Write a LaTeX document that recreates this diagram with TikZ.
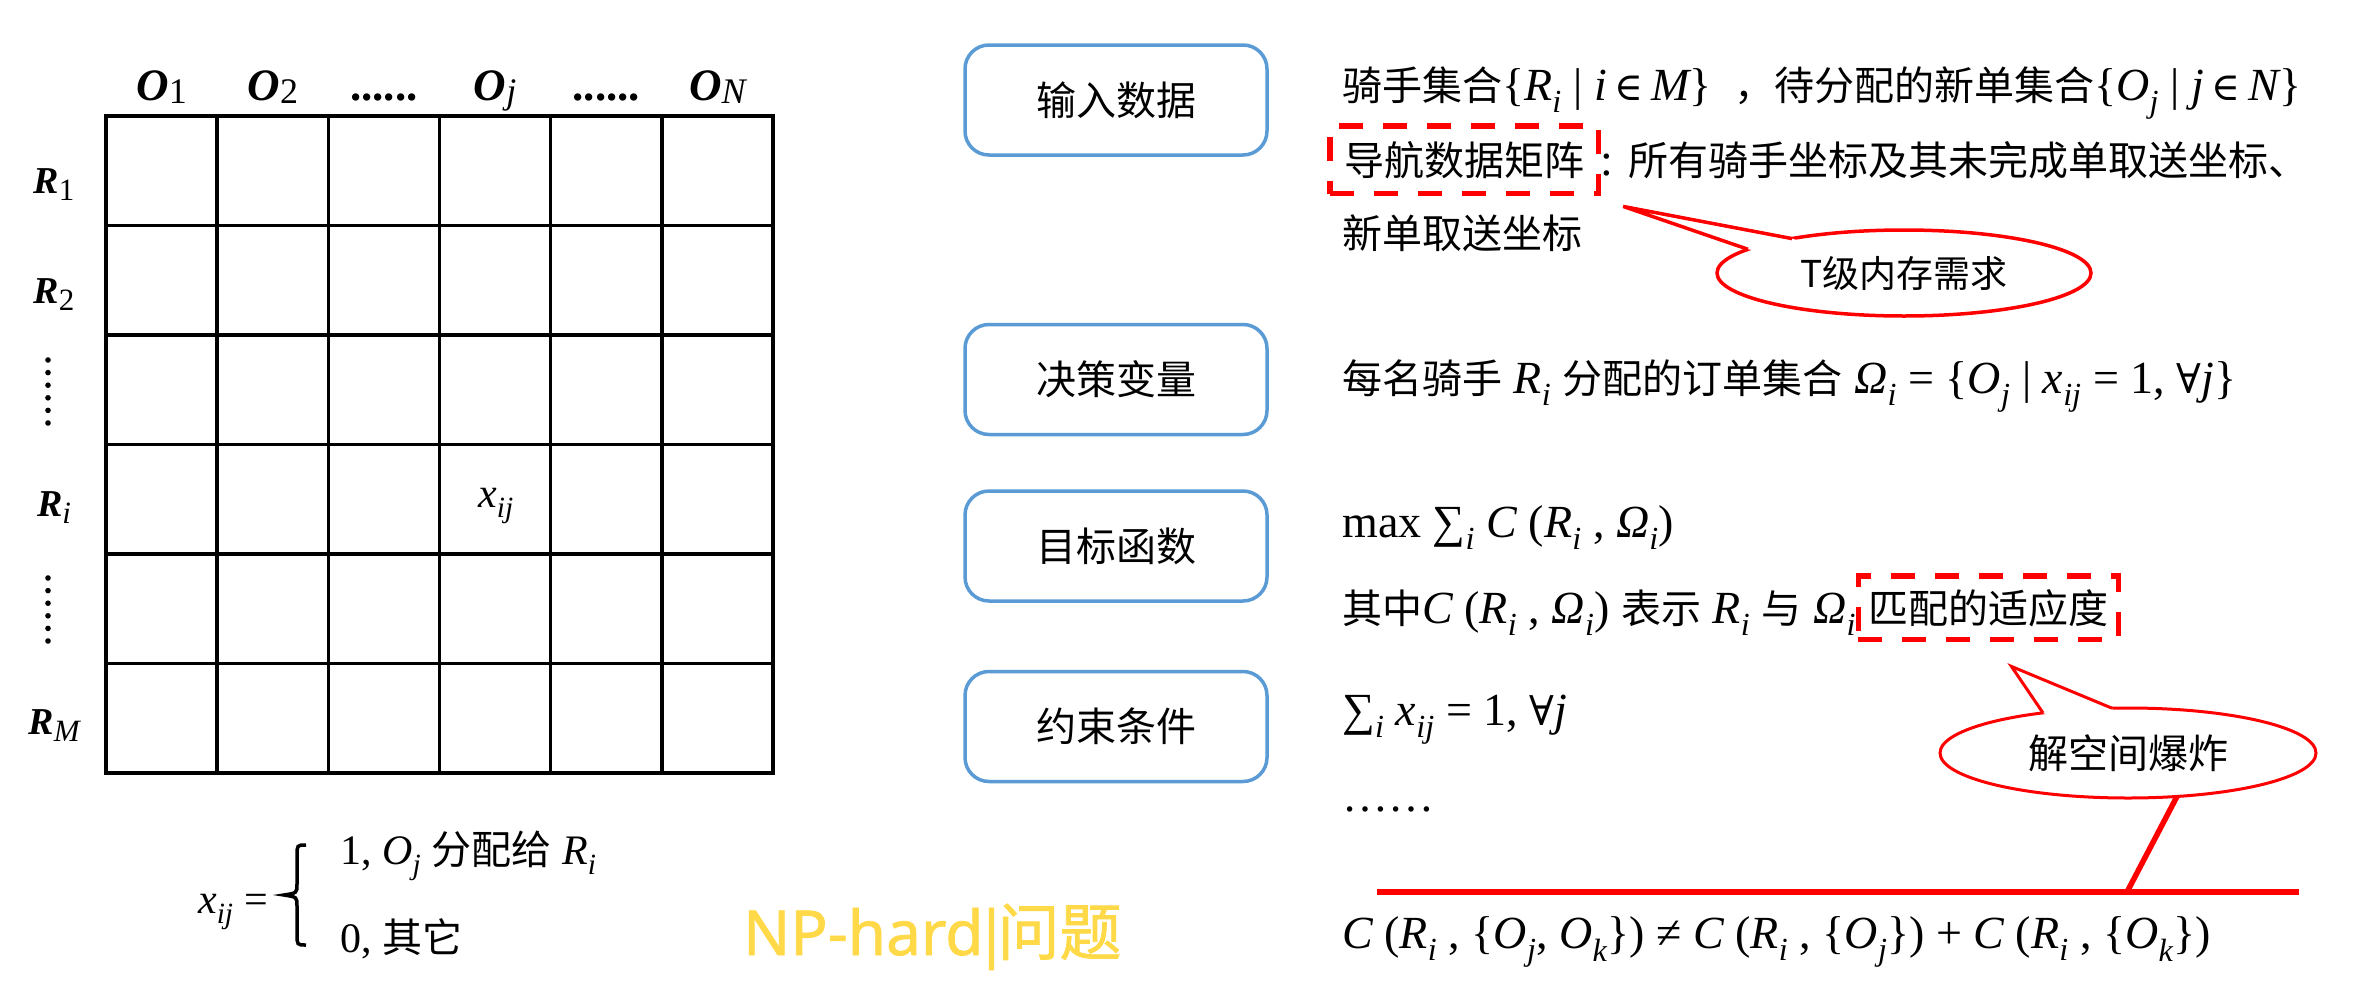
\documentclass[tikz,border=0pt]{standalone}
\usepackage{fontspec}
\setmainfont{Liberation Serif}
\newfontfamily\cjkf{Noto Sans CJK SC}
\newfontfamily\cjkfb[FakeBold=1.2]{Noto Sans CJK SC}
\newfontfamily\nsansb[FakeBold=1.2]{Noto Sans}
\newfontfamily\djs{DejaVu Serif}
\usetikzlibrary{shapes.geometric,fit,calc}
\definecolor{boxblue}{RGB}{91,155,213}
\definecolor{npyellow}{RGB}{255,217,71}
\newcommand{\fsz}[1]{\fontsize{#1}{#1}\selectfont}
\newcommand{\zh}[1]{{\cjkf\fsz{40}#1}}
\newcommand{\vi}[1]{{\itshape #1}}
\newcommand{\vs}[2]{{\itshape #1\textsubscript{#2}}}
\newcommand{\elem}{{\djs\fsz{39}∈}}
\newcommand{\fa}{{\djs\fsz{41}∀}}
\newcommand{\olab}[1]{{\bfseries\itshape O}\raisebox{-3pt}{\fsz{36}#1}}
\newcommand{\rlab}[1]{{\bfseries\itshape R}\raisebox{-7pt}{\fsz{31}#1}}
\begin{document}
\begin{tikzpicture}[x=1pt,y=-1pt,
  every node/.style={inner sep=0pt},
  gridline/.style={line width=3.5pt, line cap=rect},
  stepbox/.style={draw=boxblue, line width=3.5pt, rounded corners=24pt,
    minimum width=302pt, minimum height=110pt, font=\cjkf\fsz{40}},
  body/.style={anchor=base west, font=\fsz{46}},
  collab/.style={anchor=base, font=\fsz{45}},
  rowlab/.style={anchor=base, font=\fsz{38}},
  hilite/.style={draw=red, line width=5.5pt, dash pattern=on 24pt off 20pt},
  bubble/.style={ellipse, draw=red, fill=white, line width=3.5pt, font=\cjkf\fsz{37}},
  tail/.style={draw=red, line width=3.5pt, line join=miter},
  redline/.style={draw=red, line width=6.5pt}]
\fill[white] (0,0) rectangle (2372,996);
\useasboundingbox (0,0) rectangle (2372,996);

% grid
\foreach \k in {0,...,6}{
  \draw[gridline] ({106+111.1667*\k},116) -- ({106+111.1667*\k},773);
  \draw[gridline] (106,{116+109.5*\k}) -- (773,{116+109.5*\k});
}
\node[collab] (o1) at (161.6,100) {\olab{1}};
\node[collab] (o2) at (272.8,100) {\olab{2}};
\node[collab] (od1) at (383.9,100) {\bfseries ......};
\node[collab] (oj) at (495.1,100) {\olab{\itshape j}};
\node[collab] (od2) at (606.3,100) {\bfseries ......};
\node[collab] (on) at (717.4,100) {\olab{\itshape N}};

\node[rowlab] (r1) at (54,193) {\rlab{1}};
\node[rowlab] (r2) at (54,303) {\rlab{2}};
\node[rowlab] (ri) at (54,516) {\rlab{\itshape i}};
\node[rowlab] (rm) at (54,734) {\rlab{\itshape M}};
\foreach \k in {0,...,5}{
  \fill (48,{360+12.6*\k}) circle (2.8);
  \fill (48,{578+12.6*\k}) circle (2.8);
}
\node[font=\fsz{42}] (xij) at (496,506) {\vs{x}{ij}};

% definition of x_ij
\node[anchor=base east, font=\fsz{42}] (xeq) at (268,913) {\vs{x}{ij} =};
\draw[line width=3.5pt] (306,845) .. controls (297,845) .. (297,856) -- (297,884)
  .. controls (297,893) .. (284,895) .. controls (297,897) .. (297,906) -- (297,934)
  .. controls (297,945) .. (306,945);
\node[body, font=\fsz{42}] (f1) at (340,864) {1, \vs{O}{j} \zh{分配给} \vs{R}{i}};
\node[body, font=\fsz{42}] (f0) at (340,952) {0, \zh{其它}};

\node[anchor=base west, font=\fsz{62}, text=npyellow] (np) at (743,955) {{\nsansb NP-hard\kern-9pt|\kern-11pt}{\cjkfb 问题}};

% left boxes
\node[stepbox] (b1) at (1116,100) {输入数据};
\node[stepbox] (b2) at (1116,379.5) {决策变量};
\node[stepbox] (b3) at (1116,546) {目标函数};
\node[stepbox] (b4) at (1116,726.5) {约束条件};

% right texts
\node[body] (t1) at (1342,100) {\zh{骑手集合}\{\vs{R}{i}\ |\ \vi{i}\,\elem\,\vi{M}\}\ \ \zh{，待分配的新单集合}\{\vs{O}{j}\ |\ \vi{j}\,\elem\,\vi{N}\}};
\node[body] (t2a) at (1344,175) {\zh{导航数据矩阵}};
\node[body] (t2b) at ($(t2a.base east)+(16,0)$) {: \zh{所有骑手坐标及其未完成单取送坐标、}};
\node[body] (t3) at (1342,248) {\zh{新单取送坐标}};
\node[body] (t4) at (1342,393) {\zh{每名骑手} \vs{R}{i} \zh{分配的订单集合} \vs{Ω}{i} = \{\vs{O}{j} | \vs{x}{ij} = 1, \fa\vi{j}\}};
\node[body] (t5) at (1342,537) {max ∑\textsubscript{\itshape i} \vi{C} (\vs{R}{i} , \vs{Ω}{i})};
\node[body] (t6) at (1342,623) {\zh{其中}\vi{C} (\vs{R}{i} , \vs{Ω}{i}) \zh{表示} \vs{R}{i} \zh{与} \vs{Ω}{i}};
\node[body] (t6b) at ($(t6.base east)+(12,0)$) {\zh{匹配的适应度}};
\node[body] (t7) at (1342,725) {∑\textsubscript{\itshape i} \vs{x}{ij} = 1, \fa\vi{j}};
\node[body] (t8) at (1342,811) {……};
\node[body] (t9) at (1342,948) {\vi{C} (\vs{R}{i} , \{\vs{O}{j}, \vs{O}{k}\}) ≠ \vi{C} (\vs{R}{i} , \{\vs{O}{j}\}) + \vi{C} (\vs{R}{i} , \{\vs{O}{k}\})};

% highlights
\node[hilite, fit=(t2a), inner xsep=14pt, inner ysep=15pt] (h1) {};
\node[hilite, fit=(t6b), inner xsep=10pt, inner ysep=13pt] (h2) {};

% callout 1
\node[bubble, minimum width=374pt, minimum height=86pt] (cb1) at (1904,273) {T级内存需求};
\coordinate (tip1) at ($(h1.south east)+(22,10)$);
\coordinate (b1a) at (1792,238.6);
\coordinate (b1b) at (1748,249.3);
\fill[white] (tip1) -- (b1a) -- ($(b1a)!6pt!(cb1.center)$) -- ($(b1b)!6pt!(cb1.center)$) -- (b1b) -- cycle;
\draw[tail] (b1a) -- (tip1) -- (b1b);

% callout 2
\node[bubble, line width=3pt, font=\cjkf\fsz{40}, minimum width=376pt, minimum height=90pt] (cb2) at (2128,753) {解空间爆炸};
\coordinate (tip2) at ($(h2.south)+(23,24)$);
\coordinate (b2a) at (2043,712.9);
\coordinate (b2b) at (2112,708.2);
\fill[white] (tip2) -- (b2a) -- ($(b2a)!6pt!(cb2.center)$) -- ($(b2b)!6pt!(cb2.center)$) -- (b2b) -- cycle;
\draw[tail, line width=3pt] (b2a) -- (tip2) -- (b2b);

% red lines
\coordinate (e2b) at (2177,796.4);
\coordinate (ljoin) at (2127,892);
\coordinate (hlL) at (1377,892);
\coordinate (hlR) at (2299,892);
\draw[redline] (hlL) -- (hlR);
\draw[red, line width=5.5pt] (e2b) -- (ljoin);
\end{tikzpicture}
\end{document}
